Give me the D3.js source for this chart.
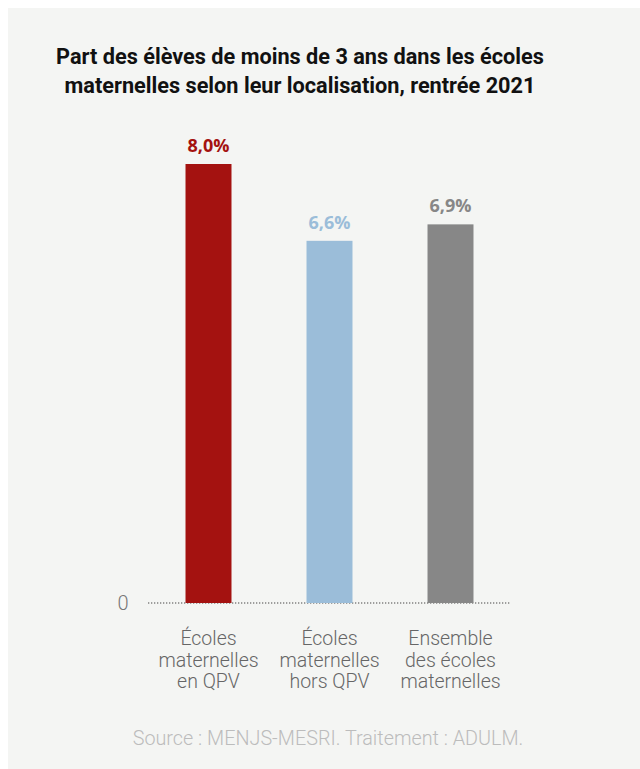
<!DOCTYPE html>
<html lang="fr">
<head>
<meta charset="utf-8">
<script src="https://cdn.jsdelivr.net/npm/d3@7"></script>
<style>
  html, body { margin: 0; padding: 0; background: #ffffff; }
  svg { display: block; }
</style>
</head>
<body>
<svg id="chart" width="640" height="769"></svg>
<script>
// Chart data
const categories = [
  ["Écoles", "maternelles", "en QPV"],
  ["Écoles", "maternelles", "hors QPV"],
  ["Ensemble", "des écoles", "maternelles"]
];
const values = [8.0, 6.6, 6.9];
const valueLabels = ["8,0%", "6,6%", "6,9%"];
const barColors = ["#a41210", "#9bbdd9", "#878787"];
const labelColors = ["#a41210", "#9bbdd9", "#878787"];
const titleLines = [
  "Part des élèves de moins de 3 ans dans les écoles",
  "maternelles selon leur localisation, rentrée 2021"
];
const sourceText = "Source : MENJS-MESRI. Traitement : ADULM.";

const svg = d3.select("#chart");

// Panel background
svg.append("rect")
  .attr("x", 8).attr("y", 8)
  .attr("width", 632).attr("height", 761)
  .attr("fill", "#f4f5f3");

// Title
svg.append("text")
  .attr("x", 300).attr("y", 64)
  .attr("text-anchor", "middle")
  .attr("font-family", "Roboto, sans-serif")
  .attr("font-weight", 700)
  .attr("font-size", 21.7)
  .attr("fill", "#111")
  .selectAll("tspan")
  .data(titleLines)
  .join("tspan")
  .attr("x", 300)
  .attr("dy", (d, i) => i === 0 ? 0 : 29)
  .text(d => d);

// Scales
const x = d3.scaleBand()
  .domain(d3.range(values.length))
  .range([148, 511])
  .paddingInner(0.62)
  .paddingOuter(0.31);

const y = d3.scaleLinear()
  .domain([0, 8])
  .range([603, 164]);

// Baseline (dotted)
svg.append("line")
  .attr("x1", 148).attr("x2", 511)
  .attr("y1", y(0)).attr("y2", y(0))
  .attr("stroke", "#808080")
  .attr("stroke-width", 1.3)
  .attr("stroke-dasharray", "1.3,1.7");

// Zero tick label
svg.append("text")
  .attr("x", 123).attr("y", y(0))
  .attr("dy", "0.35em")
  .attr("text-anchor", "middle")
  .attr("font-family", "Roboto, sans-serif")
  .attr("font-weight", 300)
  .attr("font-size", 20)
  .attr("fill", "#777")
  .text("0");

// Bars
svg.append("g")
  .selectAll("rect")
  .data(values)
  .join("rect")
  .attr("x", (d, i) => x(i))
  .attr("width", x.bandwidth())
  .attr("y", d => y(d))
  .attr("height", d => y(0) - y(d))
  .attr("fill", (d, i) => barColors[i]);

// Value labels
svg.append("g")
  .selectAll("text")
  .data(values)
  .join("text")
  .attr("x", (d, i) => x(i) + x.bandwidth() / 2)
  .attr("y", d => y(d) - 12)
  .attr("text-anchor", "middle")
  .attr("font-family", "'Open Sans', sans-serif")
  .attr("font-weight", 700)
  .attr("font-size", 18)
  .attr("fill", (d, i) => labelColors[i])
  .text((d, i) => valueLabels[i]);

// Category labels
const cat = svg.append("g")
  .selectAll("text")
  .data(categories)
  .join("text")
  .attr("x", (d, i) => x(i) + x.bandwidth() / 2)
  .attr("y", 645)
  .attr("text-anchor", "middle")
  .attr("font-family", "Roboto, sans-serif")
  .attr("font-weight", 300)
  .attr("font-size", 19.5)
  .attr("fill", "#666");

cat.selectAll("tspan")
  .data((d, i) => d.map(line => ({ line, i })))
  .join("tspan")
  .attr("x", d => x(d.i) + x.bandwidth() / 2)
  .attr("dy", (d, j) => j === 0 ? 0 : 21.5)
  .text(d => d.line);

// Source
svg.append("text")
  .attr("x", 328).attr("y", 745)
  .attr("text-anchor", "middle")
  .attr("font-family", "Roboto, sans-serif")
  .attr("font-weight", 300)
  .attr("font-size", 19.8)
  .attr("fill", "#bcbcbc")
  .text(sourceText);
</script>
</body>
</html>
